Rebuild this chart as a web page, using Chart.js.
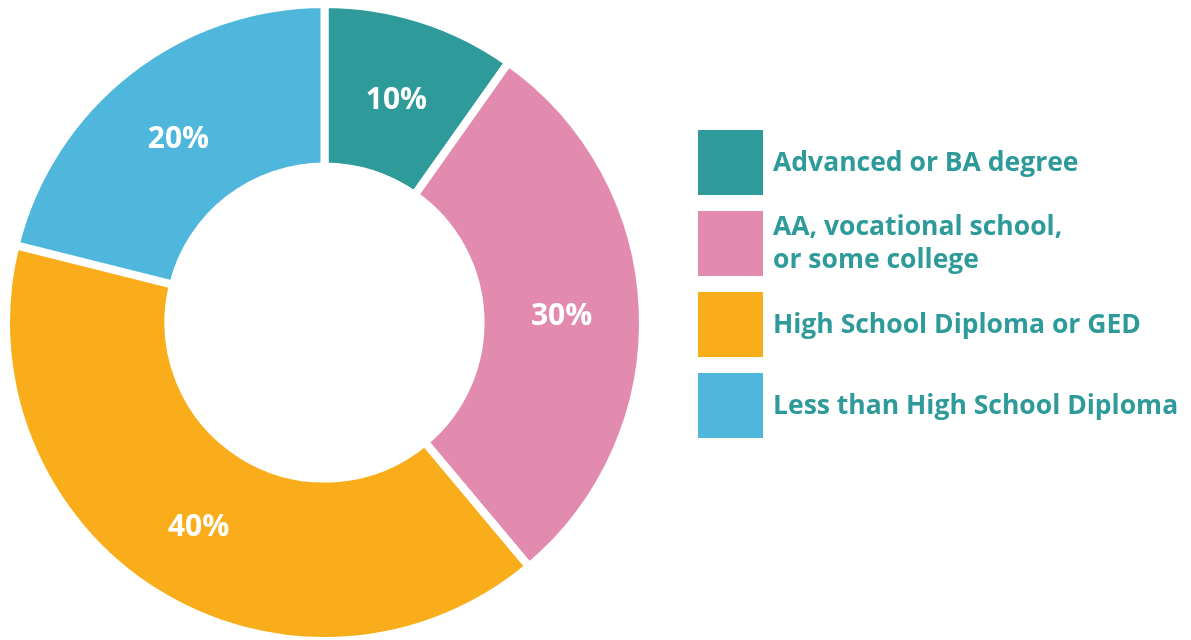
<!DOCTYPE html>
<html>
<head>
<meta charset="utf-8">
<script src="https://cdn.jsdelivr.net/npm/chart.js@4/dist/chart.umd.min.js"></script>
<style>
  html, body { margin: 0; padding: 0; background: #fff; overflow: hidden; width: 1191px; height: 640px; }
  #wrap { position: absolute; left: 0; top: 0; width: 1191px; height: 645px; }
  #legend { position: absolute; left: 698px; top: 130px; font-family: "Open Sans", sans-serif; font-weight: 700; font-size: 26.5px; color: #2E9A9A; }
  .item { display: flex; align-items: center; height: 65px; margin-bottom: 16px; }
  .box { width: 65px; height: 65px; flex: none; }
  .txt { margin-left: 10px; line-height: 33px; white-space: nowrap; margin-top: -3px; }
</style>
</head>
<body>
<div id="wrap"><canvas id="c" width="1191" height="645"></canvas></div>
<div id="legend"></div>
<script>
const categories = ["Advanced or BA degree", "AA, vocational school,\nor some college", "High School Diploma or GED", "Less than High School Diploma"];
const values = [9.8, 29.1, 40.0, 21.1];
const valueLabels = ["10%", "30%", "40%", "20%"];
const colors = ["#2E9A9A", "#E28BAE", "#FAAD1B", "#4FB6DC"];

const legendEl = document.getElementById('legend');
categories.forEach((c, i) => {
  const it = document.createElement('div'); it.className = 'item';
  const b = document.createElement('div'); b.className = 'box'; b.style.background = colors[i];
  const t = document.createElement('div'); t.className = 'txt';
  c.split('\n').forEach((line, k) => { if (k) t.appendChild(document.createElement('br')); t.appendChild(document.createTextNode(line)); });
  it.appendChild(b); it.appendChild(t); legendEl.appendChild(it);
});

const labelPlugin = {
  id: 'sliceLabels',
  afterDatasetsDraw(chart) {
    const ctx = chart.ctx;
    const meta = chart.getDatasetMeta(0);
    ctx.save();
    ctx.fillStyle = '#ffffff';
    ctx.font = '700 30px "Open Sans"';
    ctx.textAlign = 'center';
    ctx.textBaseline = 'middle';
    meta.data.forEach((arc, i) => {
      const p = arc.tooltipPosition();
      ctx.fillText(valueLabels[i], p.x, p.y + 4);
    });
    ctx.restore();
  }
};

new Chart(document.getElementById('c'), {
  type: 'doughnut',
  data: {
    labels: categories,
    datasets: [{
      data: values,
      backgroundColor: colors,
      borderColor: '#ffffff',
      borderWidth: 8,
      hoverOffset: 0
    }]
  },
  options: {
    responsive: false,
    animation: false,
    cutout: '49%',
    layout: { padding: { left: 2, right: 544, top: 0, bottom: 0 } },
    plugins: { legend: { display: false }, tooltip: { enabled: false } }
  },
  plugins: [labelPlugin]
});
</script>
</body>
</html>
